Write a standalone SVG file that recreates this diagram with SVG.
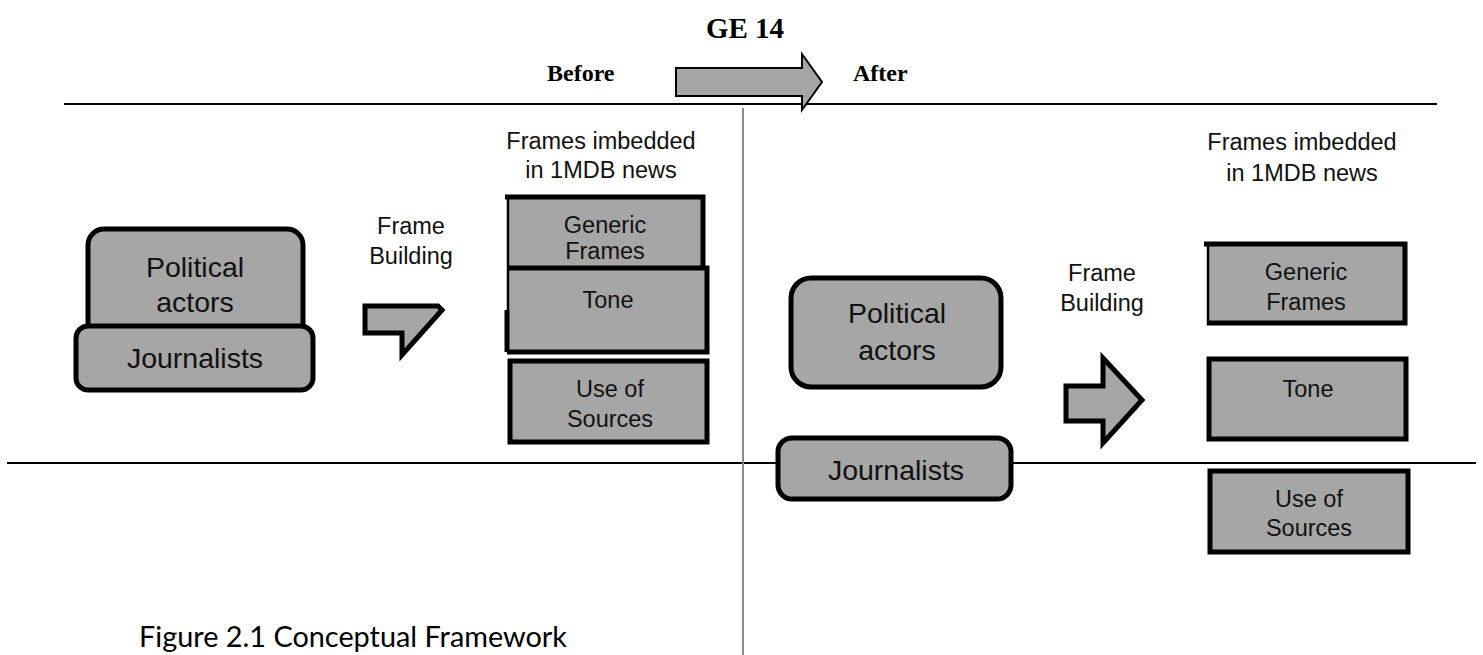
<svg xmlns="http://www.w3.org/2000/svg" width="1483" height="655" viewBox="0 0 1483 655">
<style>
  .hdr{font-family:"Liberation Serif",serif;font-weight:bold;fill:#000}
  .big{font-family:"Liberation Sans",Arial,sans-serif;font-size:28.5px;fill:#111;text-anchor:middle}
  .lbl{font-family:"Liberation Sans",Arial,sans-serif;font-size:23.5px;fill:#111;text-anchor:middle}
  .rbox{fill:#a6a6a6;stroke:#000;stroke-width:5}
  .fill{fill:#a6a6a6}
  .edge{fill:none;stroke:#000;stroke-width:5}
  .thin{fill:none;stroke:#000;stroke-width:2.5}
  .rule{stroke:#000;stroke-width:2}
  .arrow{fill:#a6a6a6;stroke:#000;stroke-linejoin:miter}
</style>
<rect width="1483" height="655" fill="#fff"/>

<g id="header">
  <text class="hdr" x="745" y="38" font-size="29" text-anchor="middle">GE 14</text>
  <text class="hdr" x="547" y="81" font-size="24">Before</text>
  <text class="hdr" x="853" y="81" font-size="24">After</text>
</g>

<g id="rules">
  <line class="rule" x1="64" y1="104" x2="1437" y2="104"/>
  <line class="rule" x1="7" y1="463" x2="1476" y2="463"/>
  <line x1="743" y1="108" x2="743" y2="655" stroke="#8a8a8a" stroke-width="2"/>
</g>

<g id="connectors">
  <polygon class="arrow" stroke-width="2" points="676,68 802,68 802,54 822,82 802,110 802,96 676,96"/>
  <polygon class="arrow" stroke-width="5" points="365,306 438,306 442,310 402,355 402,333 365,333"/>
  <polygon class="arrow" stroke-width="5" points="1066,386 1103,386 1103,358 1142,400 1103,443 1103,421 1066,421"/>
</g>

<g id="left-political-actors">
  <rect class="rbox" x="88" y="229" width="215" height="110" rx="16"/>
  <text class="big" x="195" y="277">Political</text>
  <text class="big" x="195" y="312">actors</text>
</g>
<g id="left-journalists">
  <rect class="rbox" x="76" y="326" width="237" height="64" rx="12"/>
  <text class="big" x="195" y="368">Journalists</text>
</g>

<g id="frame-building-left">
  <text class="lbl" x="411" y="234">Frame</text>
  <text class="lbl" x="411" y="264">Building</text>
</g>

<g id="frames-label-left">
  <text class="lbl" x="601" y="149">Frames imbedded</text>
  <text class="lbl" x="601" y="178">in 1MDB news</text>
</g>

<g id="left-generic-frames">
  <rect class="fill" x="507" y="197" width="196" height="71"/>
  <path class="edge" d="M505,197 H703 V268"/>
  <path class="thin" d="M508,197 V268"/>
  <text class="lbl" x="605" y="233">Generic</text>
  <text class="lbl" x="605" y="259">Frames</text>
</g>
<g id="left-tone">
  <rect class="fill" x="507" y="268" width="200" height="84"/>
  <path class="edge" d="M507,268 H707 V352 H507"/>
  <path class="thin" d="M508,268 V310"/>
  <path class="edge" d="M507,310 V352"/>
  <text class="lbl" x="608" y="308">Tone</text>
</g>
<g id="left-use-of-sources">
  <rect class="rbox" x="510" y="361" width="197" height="81" stroke-width="6"/>
  <text class="lbl" x="610" y="397">Use of</text>
  <text class="lbl" x="610" y="427">Sources</text>
</g>

<g id="right-political-actors">
  <rect class="rbox" x="791" y="278" width="210" height="109" rx="20"/>
  <text class="big" x="897" y="323">Political</text>
  <text class="big" x="897" y="360">actors</text>
</g>
<g id="right-journalists">
  <rect class="rbox" x="778" y="438" width="233" height="61" rx="14"/>
  <text class="big" x="896" y="480">Journalists</text>
</g>

<g id="frame-building-right">
  <text class="lbl" x="1102" y="281">Frame</text>
  <text class="lbl" x="1102" y="311">Building</text>
</g>

<g id="frames-label-right">
  <text class="lbl" x="1302" y="150">Frames imbedded</text>
  <text class="lbl" x="1302" y="181">in 1MDB news</text>
</g>

<g id="right-generic-frames">
  <rect class="fill" x="1207" y="242" width="200" height="83"/>
  <path class="edge" d="M1204,244 H1405 V323 H1207"/>
  <path class="thin" d="M1208,242 V325"/>
  <text class="lbl" x="1306" y="280">Generic</text>
  <text class="lbl" x="1306" y="310">Frames</text>
</g>
<g id="right-tone">
  <rect class="rbox" x="1209" y="359" width="197" height="80"/>
  <text class="lbl" x="1308" y="397">Tone</text>
</g>
<g id="right-use-of-sources">
  <rect class="rbox" x="1210" y="471" width="198" height="81"/>
  <text class="lbl" x="1309" y="507">Use of</text>
  <text class="lbl" x="1309" y="536">Sources</text>
</g>

<g id="caption">
  <text x="139" y="647" font-family="Lato,'Open Sans',sans-serif" font-size="28" fill="#000" textLength="428" lengthAdjust="spacingAndGlyphs">Figure 2.1 Conceptual Framework</text>
</g>
</svg>
